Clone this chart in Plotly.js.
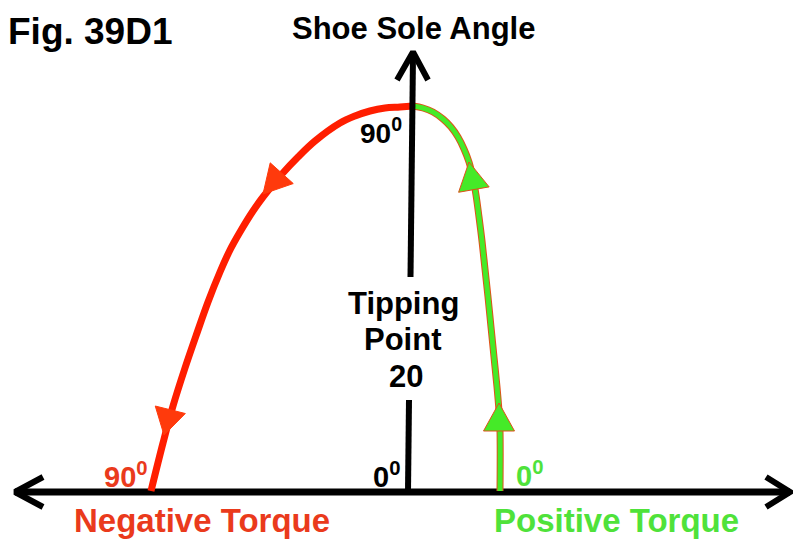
<!DOCTYPE html>
<html>
<head>
<meta charset="utf-8">
<script src="https://cdn.plot.ly/plotly-3.0.1.min.js"></script>
<style>html,body{margin:0;padding:0;background:#fff;}#chart{width:793px;height:540px;}</style>
</head>
<body>
<div id="chart"></div>
<script>
// ---- Data (origin = where the axes cross) ----
// Negative-torque path (red), from the 90° peak down to the horizontal axis
const redX = [5, -8, -23, -38, -53, -68, -93, -110, -126, -145, -155, -168, -178, -188, -200, -211, -223, -235, -245, -257];
const redY = [385, 384, 383, 380, 375, 368, 350, 334, 317, 294, 280, 259, 241, 219, 189, 158, 123, 85, 48, 0];
// Positive-torque path (green), from the 90° peak down to 0°
const greenX = [5, 15, 25, 35, 43, 50, 56, 61, 65, 68, 71, 74, 77, 80, 83, 86, 89, 91, 92, 92];
const greenY = [385, 383, 379, 372, 364, 354, 342, 329, 313, 296, 274, 250, 222, 194, 164, 134, 104, 80, 60, 0];
// Direction arrowheads on each path: tip position and heading (deg clockwise from up)
const redArrowTipX = [-145, -244];
const redArrowTipY = [297, 56];
const redArrowHeading = [222, 194];
const greenArrowTipX = [61, 91];
const greenArrowTipY = [329, 88];
const greenArrowHeading = [-10, 0];
// Axes (vertical axis has a gap for the "Tipping Point" label)
const vAxisX = [0, 1, null, 2.5, 5];
const vAxisY = [0, 91, null, 214, 436];
const vHeadX = [-11, 5, 20];
const vHeadY = [411, 439, 411];
const hAxisX = [-393, 382];
const hAxisY = [-1, -1];
const hHeadLeftX = [-365, -393, -365];
const hHeadLeftY = [14, -1, -16];
const hHeadRightX = [358, 382, 358];
const hHeadRightY = [14, -1, -16];
// Labels
const figLabel = 'Fig. 39D1';
const yAxisLabel = 'Shoe Sole Angle';
const negLabel = 'Negative Torque';
const posLabel = 'Positive Torque';
const tippingLines = ['Tipping', 'Point', '20'];
const peakLabel = '90<sup>0</sup>';
const negEndLabel = '90<sup>0</sup>';
const originLabel = '0<sup>0</sup>';
const posEndLabel = '0<sup>0</sup>';

const RED = '#ff1e00', RED_HEAD = '#ff3a0c', RED_TEXT = '#ea3a1c';
const GREEN = '#45ea28', GREEN_TEXT = '#4fe23a', EDGE = '#e0501a';
const FONT = '"Liberation Sans", Arial, Helvetica, sans-serif';
const HEAD_LEN = 28, HEAD_W = 31;

// Build a filled arrowhead outline (axes are 1 unit = 1 px)
function heads(tx, ty, hd, len, w) {
  const xs = [], ys = [];
  for (let i = 0; i < tx.length; i++) {
    const a = hd[i] * Math.PI / 180;
    const dx = Math.sin(a), dy = Math.cos(a);
    const L = Array.isArray(len) ? len[i] : len;
    const bx = tx[i] - L * dx, by = ty[i] - L * dy;
    const nx = -dy, ny = dx;
    xs.push(tx[i], bx + nx * w / 2, bx - nx * w / 2, tx[i], null);
    ys.push(ty[i], by + ny * w / 2, by - ny * w / 2, ty[i], null);
  }
  return {x: xs, y: ys};
}
const rh = heads(redArrowTipX, redArrowTipY, redArrowHeading, [HEAD_LEN, 26], HEAD_W);
const gh = heads(greenArrowTipX, greenArrowTipY, greenArrowHeading, HEAD_LEN, HEAD_W);

const traces = [
  {x: hAxisX, y: hAxisY, mode: 'lines', line: {color: '#000', width: 7}},
  {x: hHeadLeftX, y: hHeadLeftY, mode: 'lines', line: {color: '#000', width: 6}},
  {x: hHeadRightX, y: hHeadRightY, mode: 'lines', line: {color: '#000', width: 6}},
  {x: redX, y: redY, mode: 'lines', line: {color: RED, width: 7, shape: 'spline', smoothing: 1}},
  {x: greenX, y: greenY, mode: 'lines', line: {color: EDGE, width: 7, shape: 'spline', smoothing: 1}},
  {x: greenX, y: greenY, mode: 'lines', line: {color: GREEN, width: 5, shape: 'spline', smoothing: 1}},
  {x: vAxisX, y: vAxisY, mode: 'lines', connectgaps: false, line: {color: '#000', width: 6}},
  {x: vHeadX, y: vHeadY, mode: 'lines', line: {color: '#000', width: 6}},
  {x: rh.x, y: rh.y, mode: 'lines', fill: 'toself', fillcolor: RED_HEAD, line: {color: RED_HEAD, width: 1}},
  {x: gh.x, y: gh.y, mode: 'lines', fill: 'toself', fillcolor: GREEN, line: {color: EDGE, width: 1}}
];

function txt(text, x, y, size, color, xanchor) {
  return {text: text, x: x, y: y, xref: 'x', yref: 'y', showarrow: false,
          xanchor: xanchor || 'center', yanchor: 'middle',
          font: {family: FONT, size: size, color: color, weight: 'bold'}};
}

const annotations = [
  txt(figLabel, -402, 460, 37, '#000', 'left'),
  txt(yAxisLabel, 5, 463, 31, '#000'),
  txt(peakLabel, -4, 360, 28, '#000', 'right'),
  txt(tippingLines[0], -5, 188, 31, '#000'),
  txt(tippingLines[1], -5, 152, 31, '#000'),
  txt(tippingLines[2], -2, 115, 31, '#000'),
  txt(negEndLabel, -258, 16, 29, RED_TEXT, 'right'),
  txt(originLabel, -6, 16, 29, '#000', 'right'),
  txt(posEndLabel, 106, 17, 29, GREEN_TEXT, 'left'),
  txt(negLabel, -206, -29, 33, RED_TEXT),
  txt(posLabel, 208, -29, 33, GREEN_TEXT)
];

const layout = {
  width: 793, height: 540,
  margin: {l: 0, r: 0, t: 0, b: 0},
  paper_bgcolor: '#fff', plot_bgcolor: '#fff',
  showlegend: false,
  xaxis: {range: [-408, 385], visible: false, fixedrange: true},
  yaxis: {range: [-49, 491], visible: false, fixedrange: true},
  annotations: annotations
};

Plotly.newPlot('chart', traces, layout, {displayModeBar: false, staticPlot: true});
</script>
</body>
</html>
